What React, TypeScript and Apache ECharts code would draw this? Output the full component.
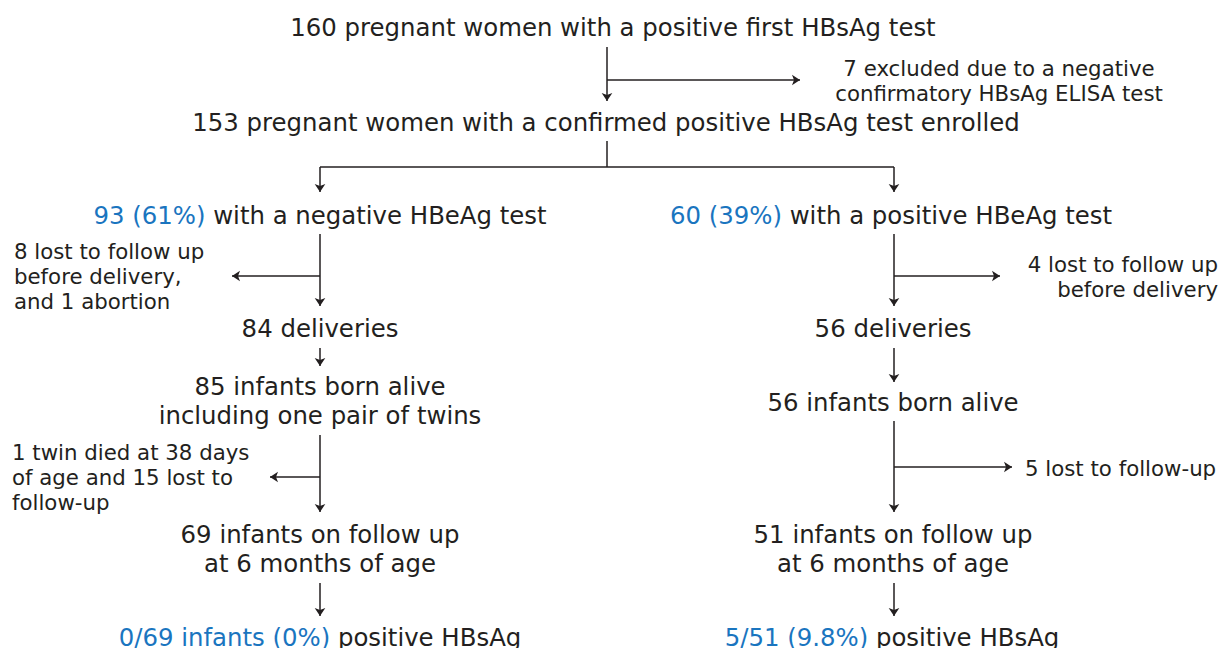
import React, { useEffect, useRef } from "react";
import * as echarts from "echarts";

// ---------- data ----------
const screening = [
  "160 pregnant women with a positive first HBsAg test",
  "153 pregnant women with a confirmed positive HBsAg test enrolled",
];
const exclusion = ["7 excluded due to a negative", "confirmatory HBsAg ELISA test"];
const groupCounts = ["93 (61%)", "60 (39%)"];
const groupLabels = ["with a negative HBeAg test", "with a positive HBeAg test"];
const lossesBeforeDelivery = [
  ["8 lost to follow up", "before delivery,", "and 1 abortion"],
  ["4 lost to follow up", "before delivery"],
];
const deliveries = ["84 deliveries", "56 deliveries"];
const bornAlive = [
  ["85 infants born alive", "including one pair of twins"],
  ["56 infants born alive"],
];
const lossesAfterBirth = [
  ["1 twin died at 38 days", "of age and 15 lost to", "follow-up"],
  ["5 lost to follow-up"],
];
const followUp = [
  ["69 infants on follow up", "at 6 months of age"],
  ["51 infants on follow up", "at 6 months of age"],
];
const outcomeCounts = ["0/69 infants (0%)", "5/51 (9.8%)"];
const outcomeLabel = "positive HBsAg";

// ---------- layout ----------
const W = 1222;
const H = 648;
const TEXT = "#231f20";
const BLUE = "#1a75bf";
const FONT = "DejaVu Sans";
const BIG = 24.4;
const SMALL = 21.3;

const topX = 607;
const colX = [320, 894];

export default function App() {
  const ref = useRef<HTMLDivElement>(null);

  useEffect(() => {
    if (!ref.current) return;
    const chart = echarts.init(ref.current, null, { renderer: "svg" });

    const richStyles = {
      t: { color: TEXT, fontSize: BIG, fontFamily: FONT, lineHeight: 29 },
      b: { color: BLUE, fontSize: BIG, fontFamily: FONT, lineHeight: 29 },
      s: { color: TEXT, fontSize: SMALL, fontFamily: FONT, lineHeight: 25 },
    };

    const big = (x: number, y: number, lines: string[]) => ({
      value: [x, y],
      label: { formatter: lines.map((l) => `{t|${l}}`).join("\n"), align: "center" },
    });
    const small = (x: number, y: number, lines: string[], align: string) => ({
      value: [x, y],
      label: { formatter: lines.map((l) => `{s|${l}}`).join("\n"), align },
    });
    const mixed = (x: number, y: number, blue: string, rest: string) => ({
      value: [x, y],
      label: { formatter: `{b|${blue}}{t| ${rest}}`, align: "center" },
    });

    const labels = [
      big(613, 27, [screening[0]]),
      small(999, 81, exclusion, "center"),
      big(606, 122, [screening[1]]),
      mixed(colX[0], 215, groupCounts[0], groupLabels[0]),
      mixed(891, 215, groupCounts[1], groupLabels[1]),
      small(14, 276, lossesBeforeDelivery[0], "left"),
      small(1218, 277, lossesBeforeDelivery[1], "right"),
      big(colX[0], 328, [deliveries[0]]),
      big(893, 328, [deliveries[1]]),
      big(colX[0], 401, bornAlive[0]),
      big(893, 402, bornAlive[1]),
      small(12, 477, lossesAfterBirth[0], "left"),
      small(1025, 468, lossesAfterBirth[1], "left"),
      big(colX[0], 549, followUp[0]),
      big(893, 549, followUp[1]),
      mixed(colX[0], 637, outcomeCounts[0], outcomeLabel),
      mixed(892, 637, outcomeCounts[1], outcomeLabel),
    ];

    const seg = (x1: number, y1: number, x2: number, y2: number) => ({
      coords: [
        [x1, y1],
        [x2, y2],
      ],
    });

    const arrows = [
      seg(topX, 47, topX, 101),
      seg(topX, 80, 800, 80),
      seg(colX[0], 167, colX[0], 192),
      seg(colX[1], 167, colX[1], 192),
      seg(colX[0], 234, colX[0], 306),
      seg(colX[0], 276, 232, 276),
      seg(colX[1], 234, colX[1], 306),
      seg(colX[1], 276, 1000, 276),
      seg(colX[0], 348, colX[0], 366),
      seg(colX[1], 348, colX[1], 382),
      seg(colX[0], 435, colX[0], 512),
      seg(colX[0], 477, 270, 477),
      seg(colX[1], 421, colX[1], 512),
      seg(colX[1], 467, 1012, 467),
      seg(colX[0], 583, colX[0], 616),
      seg(colX[1], 583, colX[1], 616),
    ];
    const connectors = [seg(topX, 141, topX, 167), seg(colX[0], 167, colX[1], 167)];

    const lineStyle = { color: TEXT, width: 1.5, opacity: 1, curveness: 0 };

    chart.setOption({
      animation: false,
      grid: { left: 0, right: 0, top: 0, bottom: 0 },
      xAxis: { type: "value", min: 0, max: W, show: false },
      yAxis: { type: "value", min: 0, max: H, inverse: true, show: false },
      series: [
        {
          type: "lines",
          coordinateSystem: "cartesian2d",
          symbol: ["none", "arrow"],
          symbolSize: 8,
          lineStyle,
          silent: true,
          data: arrows,
        },
        {
          type: "lines",
          coordinateSystem: "cartesian2d",
          symbol: "none",
          lineStyle,
          silent: true,
          data: connectors,
        },
        {
          type: "scatter",
          symbolSize: 0,
          silent: true,
          itemStyle: { opacity: 1 },
          data: labels,
          label: {
            show: true,
            position: "inside",
            verticalAlign: "middle",
            color: TEXT,
            opacity: 1,
            fontFamily: FONT,
            fontSize: BIG,
            rich: richStyles,
          },
        },
      ],
    });

    return () => chart.dispose();
  }, []);

  return (
    <div
      ref={ref}
      style={{ position: "absolute", left: 0, top: 0, width: W, height: H, background: "#fff" }}
    />
  );
}
